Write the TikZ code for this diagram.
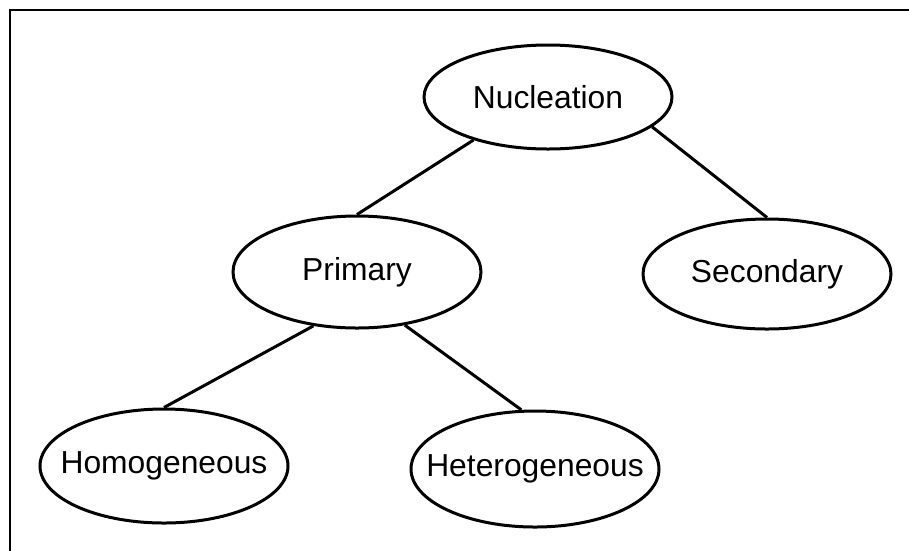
\documentclass[tikz,border=0pt]{standalone}
\usepackage{fontspec}
\setmainfont{Liberation Sans}
\usetikzlibrary{shapes.geometric}
\tikzset{
  bubble/.style={draw, ellipse, line width=3pt, inner sep=0pt,
    minimum width=248pt, minimum height=112pt,
    font=\fontsize{31.8}{38}\selectfont},
  link/.style={line width=3pt},
  frameline/.style={line width=2.5pt}
}
\newcommand{\lbl}[1]{\makebox[0pt]{#1}}
\begin{document}
\begin{tikzpicture}[x=1pt,y=-1pt]
  \useasboundingbox (0,0) rectangle (909,550);
  \fill[white] (0,0) rectangle (909,550);
  % frame running off the right and bottom edges
  \draw[frameline] (930,10) -- (10,10) -- (10,570);

  \node[bubble, minimum height=104pt] (nuc) at (548,97) {\lbl{Nucleation}};
  \node[bubble] (prim) at (357,272) {\lbl{Primary}};
  \node[bubble, minimum height=110pt] (sec) at (767,274) {\lbl{Secondary}};
  \node[bubble, minimum height=114pt] (homo) at (164,466) {\lbl{Homogeneous}};
  \node[bubble, minimum height=116pt] (het) at (535,469) {\lbl{Heterogeneous}};

  \draw[link] (nuc.210) -- (prim.north);
  \draw[link] (nuc.344) -- (sec.north);
  \draw[link] (prim.231) -- (homo.north);
  \draw[link] (prim.312) -- (het.103);
\end{tikzpicture}
\end{document}
